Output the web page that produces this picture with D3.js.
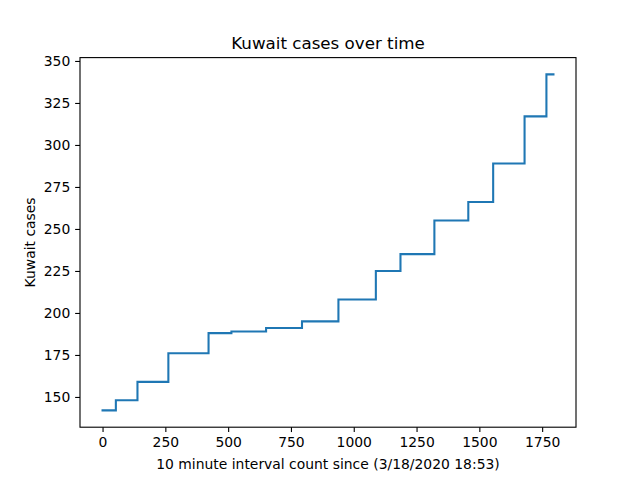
<!DOCTYPE html>
<html>
<head>
<meta charset="utf-8">
<script src="https://cdn.jsdelivr.net/npm/d3@7"></script>
<style>
  body { margin: 0; background: #fff; }
  svg text { font-family: "DejaVu Sans", sans-serif; fill: #000; }
</style>
</head>
<body>
<div id="chart"></div>
<script>
// interval index where each new case count starts
const stepStarts = [0, 53, 139, 262, 422, 513, 651, 794, 939, 1088, 1186, 1321, 1456, 1555, 1680, 1767];
const cases = [142, 148, 159, 176, 188, 189, 191, 195, 208, 225, 235, 255, 266, 289, 317, 342];
const lastInterval = 1795;
const xTicks = [0, 250, 500, 750, 1000, 1250, 1500, 1750];
const yTicks = [150, 175, 200, 225, 250, 275, 300, 325, 350];

const width = 640;
const height = 480;
const margin = {top: 57.6, right: 64, bottom: 52.8, left: 80};

const svg = d3.select("#chart").append("svg")
    .attr("width", width)
    .attr("height", height);

// matplotlib-like 5% padding around the data
const xMin = 0, xMax = lastInterval;
const yMin = d3.min(cases), yMax = d3.max(cases);
const xPad = (xMax - xMin) * 0.05, yPad = (yMax - yMin) * 0.05;

const x = d3.scaleLinear()
    .domain([xMin - xPad, xMax + xPad])
    .range([margin.left, width - margin.right]);

const y = d3.scaleLinear()
    .domain([yMin - yPad, yMax + yPad])
    .range([height - margin.bottom, margin.top]);

const points = stepStarts.map((s, i) => ({t: s, v: cases[i]}));
points.push({t: lastInterval, v: cases[cases.length - 1]});

const line = d3.line()
    .x(d => x(d.t))
    .y(d => y(d.v))
    .curve(d3.curveStepAfter);

svg.append("path")
    .datum(points)
    .attr("d", line)
    .attr("fill", "none")
    .attr("stroke", "#1f77b4")
    .attr("stroke-width", 2.08)
    .attr("stroke-linejoin", "miter")
    .attr("stroke-linecap", "square");

// axes
const xAxis = svg.append("g")
    .attr("transform", `translate(0,${height - margin.bottom})`)
    .call(d3.axisBottom(x).tickValues(xTicks).tickSize(4.86).tickPadding(4.86).tickFormat(d3.format("d")));

const yAxis = svg.append("g")
    .attr("transform", `translate(${margin.left},0)`)
    .call(d3.axisLeft(y).tickValues(yTicks).tickSize(4.86).tickPadding(4.86).tickFormat(d3.format("d")));

[xAxis, yAxis].forEach(g => {
    g.select(".domain").remove();
    g.selectAll(".tick line").attr("stroke", "#000").attr("stroke-width", 1.11);
    g.selectAll(".tick text").style("font-size", "13.9px");
});

// frame
svg.append("rect")
    .attr("x", margin.left)
    .attr("y", margin.top)
    .attr("width", width - margin.left - margin.right)
    .attr("height", height - margin.top - margin.bottom)
    .attr("fill", "none")
    .attr("stroke", "#000")
    .attr("stroke-width", 1.11);

// title and labels
svg.append("text")
    .attr("x", (margin.left + width - margin.right) / 2)
    .attr("y", margin.top - 8.3)
    .attr("text-anchor", "middle")
    .style("font-size", "16.7px")
    .text("Kuwait cases over time");

svg.append("text")
    .attr("x", (margin.left + width - margin.right) / 2)
    .attr("y", 469)
    .attr("text-anchor", "middle")
    .style("font-size", "13.9px")
    .text("10 minute interval count since (3/18/2020 18:53)");

svg.append("text")
    .attr("transform", `translate(35,${(margin.top + height - margin.bottom) / 2}) rotate(-90)`)
    .attr("text-anchor", "middle")
    .style("font-size", "13.9px")
    .text("Kuwait cases");
</script>
</body>
</html>
